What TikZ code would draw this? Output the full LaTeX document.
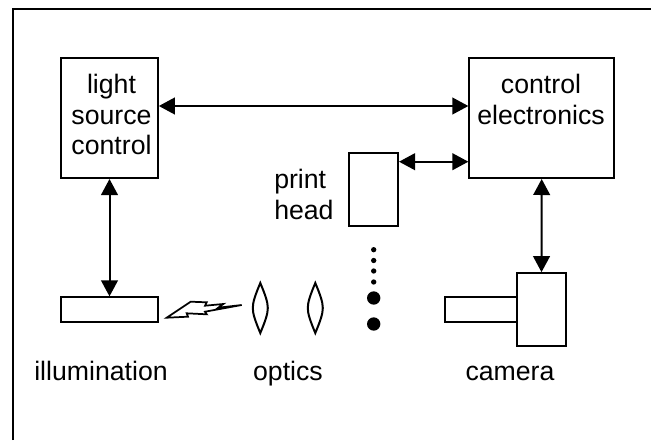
\documentclass[tikz,border=0pt]{standalone}
\usepackage{fontspec}
\setmainfont{Liberation Sans}
\usetikzlibrary{arrows.meta, positioning}

\begin{document}
\begin{tikzpicture}[
  x=0.75pt, y=-0.75pt,
  box/.style={rectangle, draw=black, line width=1.5pt, fill=white, inner sep=0pt},
  lbl/.style={inner sep=0pt, anchor=base, font=\fontsize{20}{22.9}\selectfont},
  link/.style={{Triangle[length=12pt, width=12.5pt]}-{Triangle[length=12pt, width=12.5pt]}, line width=1.5pt},
  outline/.style={line width=1.5pt, line join=miter}
]
  \useasboundingbox (0,0) rectangle (651,440);

  % Frame
  \draw[line width=1.5pt] (12.5,440) -- (12.5,8.5) -- (651,8.5);

  % Control boxes
  \node[box, minimum width=72.5pt, minimum height=90pt] (lsrc) at (109.5,118) {};
  \node[box, minimum width=108.5pt, minimum height=90pt] (ctrl) at (541.7,118) {};
  \node[box, minimum width=36.5pt, minimum height=54.5pt] (phead) at (373.7,189.7) {};

  % Illumination and camera
  \node[box, minimum width=72.5pt, minimum height=18.5pt] (illum) at (109.5,309.7) {};
  \node[box, minimum width=54pt, minimum height=18.5pt] (lens) at (481,309.7) {};
  \node[box, minimum width=36.5pt, minimum height=54.5pt] (cam) at (541.5,309.5) {};

  % Labels
  \node[lbl, align=center, anchor=north] (lsrclabel) at (111.5,74) {light\\source\\control};
  \node[lbl, align=center, anchor=north] (ctrllabel) at (541,74) {control\\electronics};
  \node[lbl, align=left, anchor=north west] (plabel) at (274,169) {print\\head};
  \node[lbl] (illumlabel) at (101,380) {illumination};
  \node[lbl] (opticslabel) at (288,380) {optics};
  \node[lbl] (camlabel) at (510,380) {camera};

  % Light flash
  \draw[outline, line width=1.3pt] (166.7,317.7) -- (190.7,301.7) -- (206.7,302.3) -- (205,305.7) -- (223.3,304) -- (218.3,307.7) -- (241.7,305) -- (205,311.7) -- (206.7,314.3) -- (186.7,313.3) -- (188,316.7) -- cycle;

  % Optics
  \foreach \lensx in {260.3, 315.3}
    \draw[outline] (\lensx,283) .. controls (\lensx-5,295) and (\lensx-7.5,302) .. (\lensx-7.5,308) .. controls (\lensx-7.5,314) and (\lensx-5,321) .. (\lensx,333) .. controls (\lensx+5,321) and (\lensx+7.5,314) .. (\lensx+7.5,308) .. controls (\lensx+7.5,302) and (\lensx+5,295) .. (\lensx,283) -- cycle;

  % Droplets
  \foreach \dropy in {249.7, 260.5, 271, 282}
    \fill (373.7,\dropy) circle (2pt);
  \foreach \dropy in {298, 324}
    \fill (373.7,\dropy) circle (5pt);

  \draw[link] ([yshift=9pt]lsrc.east) -- ([yshift=9pt]ctrl.west);
  \draw[link] (lsrc.south) -- (illum.north);
  \draw[link] ([yshift=-7pt]phead.north east) -- ([yshift=-7pt]phead.north east -| ctrl.west);
  \draw[link] (ctrl.south) -- (cam.north);
\end{tikzpicture}
\end{document}
